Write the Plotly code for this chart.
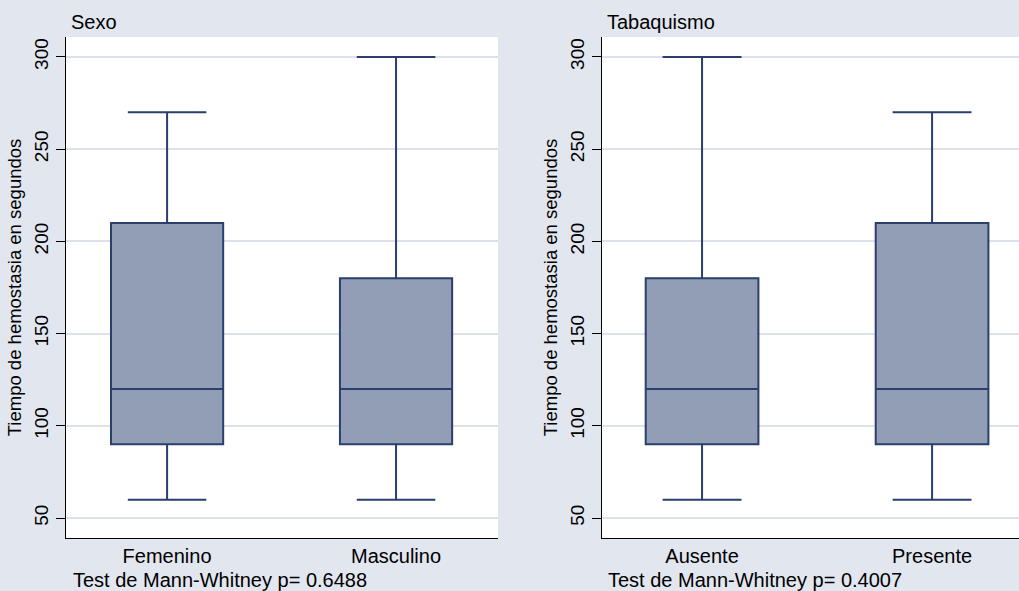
import plotly.graph_objects as go

# Data
panel_titles = ["Sexo", "Tabaquismo"]
categories_sexo = ["Femenino", "Masculino"]
categories_tab = ["Ausente", "Presente"]
lower_sexo = [60, 60]
q1_sexo = [90, 90]
median_sexo = [120, 120]
q3_sexo = [210, 180]
upper_sexo = [270, 300]
lower_tab = [60, 60]
q1_tab = [90, 90]
median_tab = [120, 120]
q3_tab = [180, 210]
upper_tab = [300, 270]
pvalues = ["0.6488", "0.4007"]
y_ticks = [50, 100, 150, 200, 250, 300]
y_title = "Tiempo de hemostasia en segundos"

BG = "#E2E6EF"
FILL = "#929EB5"
LINE = "#2A3F6E"
GRID = "#DCE1EC"
FONT = "Liberation Sans, Arial, sans-serif"

fig = go.Figure()

def add_box(cats, lo, q1, med, q3, hi, xa, ya):
    fig.add_trace(go.Box(
        x=cats, lowerfence=lo, q1=q1, median=med, q3=q3, upperfence=hi,
        xaxis=xa, yaxis=ya, fillcolor=FILL, line=dict(color=LINE, width=2),
        width=0.49, whiskerwidth=0.7, boxpoints=False, showlegend=False,
        hoverinfo="skip",
    ))

add_box(categories_sexo, lower_sexo, q1_sexo, median_sexo, q3_sexo, upper_sexo, "x", "y")
add_box(categories_tab, lower_tab, q1_tab, median_tab, q3_tab, upper_tab, "x2", "y2")

yax = dict(
    range=[39.2, 310.8], tickvals=y_ticks, tickangle=-90,
    showgrid=True, gridcolor=GRID, gridwidth=1.5,
    showline=True, linecolor="black", linewidth=1,
    ticks="outside", ticklen=9, tickcolor="black", tickwidth=1,
    tickfont=dict(size=19, color="black", family=FONT),
    zeroline=False,
    title=dict(text=y_title, font=dict(size=18.5, color="black", family=FONT), standoff=4),
)
xax = dict(
    type="category", showgrid=False, zeroline=False,
    showline=True, linecolor="black", linewidth=1,
    ticks="", tickfont=dict(size=20, color="black", family=FONT),
)

fig.update_layout(
    width=1019, height=591,
    paper_bgcolor=BG, plot_bgcolor="white",
    margin=dict(l=0, r=0, t=0, b=0),
    xaxis=dict(xax, domain=[66/1019, 498/1019], range=[-0.4415, 1.4453], anchor="y"),
    yaxis=dict(yax, domain=[1-538/591, 1-37/591], anchor="x"),
    xaxis2=dict(xax, domain=[602/1019, 1.0], range=[-0.435, 1.378], anchor="y2"),
    yaxis2=dict(yax, domain=[1-538/591, 1-37/591], anchor="x2"),
    boxgap=0, boxgroupgap=0,
)

for i, (t, x0) in enumerate(zip(panel_titles, [69, 605])):
    fig.add_annotation(text=t, x=x0/1019, y=1-22/591, xref="paper", yref="paper",
                       xanchor="left", yanchor="middle", showarrow=False,
                       font=dict(size=20, color="black", family=FONT))
for p, x0 in zip(pvalues, [71, 606]):
    fig.add_annotation(text="Test de Mann-Whitney p= " + p, x=x0/1019, y=1-580/591,
                       xref="paper", yref="paper", xanchor="left", yanchor="middle",
                       showarrow=False, font=dict(size=20, color="black", family=FONT))

fig.write_html("out.html", config={"displayModeBar": False},
               post_script="document.body.style.margin='0';document.body.style.overflow='hidden';")
